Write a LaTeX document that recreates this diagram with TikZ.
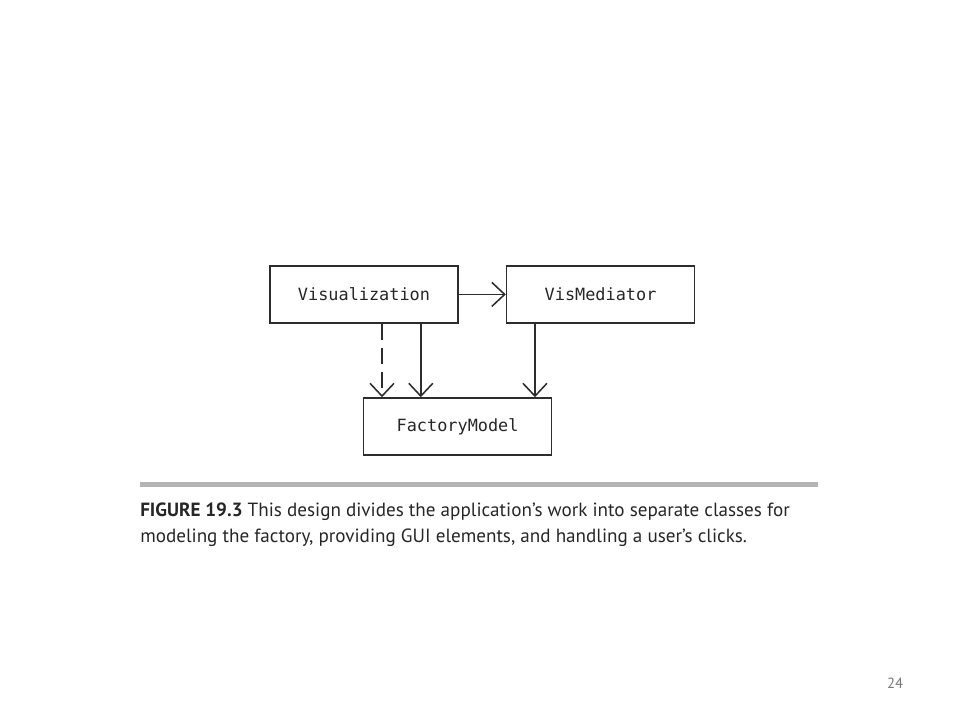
\documentclass[tikz,border=0pt]{standalone}
\usepackage{fontspec}
\setmainfont{PT Sans}
\setmonofont{DejaVu Sans Mono}
\usepackage{tikz}
\usetikzlibrary{arrows.meta,positioning}
\definecolor{inkcol}{RGB}{45,45,45}
\definecolor{rulecol}{RGB}{180,180,180}
\definecolor{pagecol}{RGB}{120,120,120}

\begin{document}
\begin{tikzpicture}[
  cls/.style={draw=inkcol,line width=1.1pt,minimum width=47mm,minimum height=14.2mm,
    font=\ttfamily\fontsize{12}{14}\selectfont,text=black!85},
  dep/.style={draw=inkcol,line width=1.1pt,-{Straight Barb[length=3.2mm,width=6mm]}},
  >=Stealth]
\useasboundingbox (0,0) rectangle (24,18);
% classes
\node[cls] (viz) at (9.1,10.64) {Visualization};
\node[cls, right=11.75mm of viz] (med) {VisMediator};
\node[cls] (fm) at (11.44,7.34) {FactoryModel};
% dependencies
\draw[dep] (viz) -- (med);
\draw[dep,dash pattern=on 4mm off 2mm] ([xshift=4.5mm]viz.south) -- ([xshift=4.5mm]viz.south |- fm.north);
\draw[dep] ([xshift=14.2mm]viz.south) -- ([xshift=14.2mm]viz.south |- fm.north);
\draw[dep] ([xshift=-16.4mm]med.south) -- ([xshift=-16.4mm]med.south |- fm.north);
% caption
\coordinate (rl) at (3.5,5.89);
\coordinate (rr) at (20.45,5.89);
\draw[rulecol,line width=1.3mm] (rl) -- (rr);
\node[anchor=base west,inner sep=0pt,align=left,font=\fontsize{13.6}{18.4}\selectfont,text=black!85] (cap) at (3.5,4.45)
  {\textbf{FIGURE 19.3} This design divides the application’s work into separate classes for\\
   modeling the factory, providing GUI elements, and handling a user’s clicks.};
\node[anchor=base,font=\fontsize{10.5}{12}\selectfont,text=pagecol] (page) at (22.38,0.8) {24};
\end{tikzpicture}
\end{document}
